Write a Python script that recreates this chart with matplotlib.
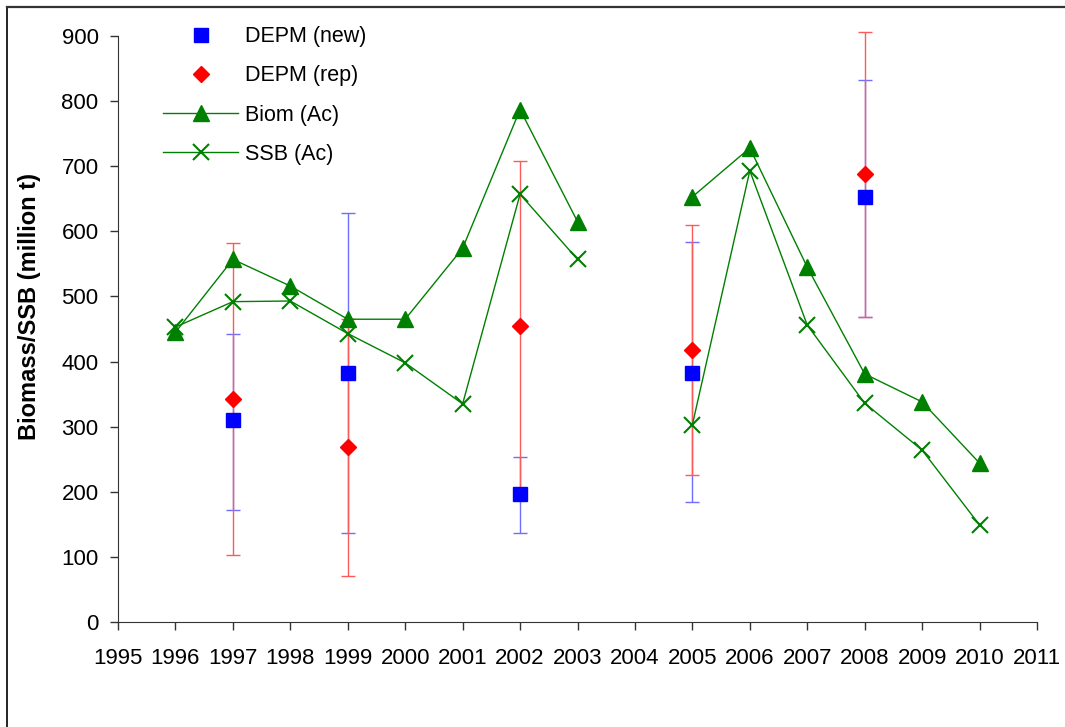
import numpy as np
import matplotlib.pyplot as plt
from matplotlib.lines import Line2D

plt.rcParams['font.family'] = ['Liberation Sans', 'DejaVu Sans']

# Acoustic series (no survey in 2004)
years = [1996, 1997, 1998, 1999, 2000, 2001, 2002, 2003, 2004,
         2005, 2006, 2007, 2008, 2009, 2010]
biom = [445, 557, 516, 465, 465, 574, 787, 615, np.nan,
        653, 728, 545, 381, 338, 244]
ssb = [453, 492, 493, 443, 398, 335, 657, 557, np.nan,
       303, 693, 456, 336, 264, 149]

# DEPM estimates with confidence limits
depm_years = [1997, 1999, 2002, 2005, 2008]
depm_new = [310, 383, 196, 383, 653]
depm_new_lo = [172, 136, 136, 184, 468]
depm_new_hi = [442, 628, 253, 583, 833]
depm_rep = [342, 269, 454, 418, 688]
depm_rep_lo = [103, 70, 200, 226, 468]
depm_rep_hi = [582, 466, 708, 610, 906]

fig = plt.figure(figsize=(10.65, 7.27), dpi=100)
ax = fig.add_axes([118 / 1065, 1 - 622 / 727, (1037 - 118) / 1065, (622 - 36) / 727])

new_err = [np.array(depm_new) - np.array(depm_new_lo), np.array(depm_new_hi) - np.array(depm_new)]
rep_err = [np.array(depm_rep) - np.array(depm_rep_lo), np.array(depm_rep_hi) - np.array(depm_rep)]

eb1 = ax.errorbar(depm_years, depm_new, yerr=new_err, fmt='none', ecolor='#6f6fff',
                  elinewidth=1, capsize=5, capthick=1, zorder=2)
eb2 = ax.errorbar(depm_years, depm_rep, yerr=rep_err, fmt='none', ecolor='#ff5a5a',
                  elinewidth=1, capsize=5, capthick=1, zorder=2)
for eb in (eb1, eb2):
    for art in eb.lines[1] + eb.lines[2]:
        art.set_clip_on(False)

ax.plot(depm_years, depm_new, 's', color='#0000ff', markersize=10, zorder=4,
        label='DEPM (new)')
ax.plot(depm_years, depm_rep, 'D', color='#ff0000', markersize=8, zorder=4,
        label='DEPM (rep)')
ax.plot(years, biom, '-^', color='#008000', markersize=11, linewidth=1, zorder=3,
        label='Biom (Ac)')
ax.plot(years, ssb, '-x', color='#008000', markersize=12, markeredgewidth=1.5,
        linewidth=1, zorder=3, label='SSB (Ac)')

ax.set_xlim(1995, 2011)
ax.set_ylim(0, 900)
ax.set_xticks(range(1995, 2012))
ax.set_yticks(range(0, 901, 100))
ax.tick_params(axis='both', labelsize=16, direction='out', length=6, width=1,
               colors='#333333', labelcolor='black')
ax.tick_params(axis='x', pad=13)
ax.tick_params(axis='y', pad=8)
for s in ['top', 'right']:
    ax.spines[s].set_visible(False)
for s in ['left', 'bottom']:
    ax.spines[s].set_color('#333333')

ax.set_ylabel('Biomass/SSB (million t)', fontsize=17, fontweight='bold')
ax.yaxis.set_label_coords(-77 / 919, (622 - 307) / 586)

ax.legend(loc='upper left', bbox_to_anchor=(0.028, 1.05), frameon=False,
          fontsize=15.5, labelspacing=0.85, handlelength=3.5, handletextpad=0.3,
          numpoints=1)

# chart area border
fig.add_artist(Line2D([7 / 1065, 7 / 1065], [0, 1 - 6.5 / 727], color='black',
                      linewidth=1.2, transform=fig.transFigure))
fig.add_artist(Line2D([7 / 1065, 1], [1 - 6.5 / 727, 1 - 6.5 / 727], color='#333333',
                      linewidth=1.6, transform=fig.transFigure))

fig.savefig('out.png', dpi=100)
